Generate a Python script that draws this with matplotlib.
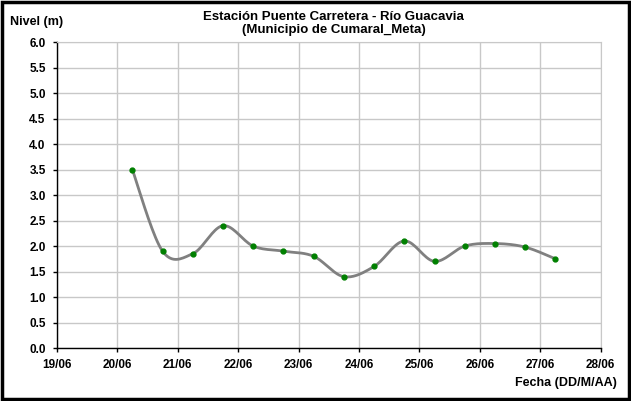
import numpy as np
import matplotlib
matplotlib.use('Agg')
import matplotlib.pyplot as plt
from matplotlib.patches import Rectangle

# Datos (días de junio, 06:00 y 18:00)
dias = [20.25, 20.75, 21.25, 21.75, 22.25, 22.75, 23.25, 23.75,
        24.25, 24.75, 25.25, 25.75, 26.25, 26.75, 27.25]
nivel = [3.5, 1.9, 1.85, 2.4, 2.0, 1.9, 1.8, 1.4,
         1.6, 2.1, 1.7, 2.0, 2.05, 1.98, 1.75]
etiquetas_x = ['19/06', '20/06', '21/06', '22/06', '23/06',
               '24/06', '25/06', '26/06', '27/06', '28/06']


def suavizar(x, y, n=20):
    # Curva suavizada tipo Excel (Catmull-Rom)
    x = np.asarray(x, float)
    y = np.asarray(y, float)
    px = np.concatenate([[x[0]], x, [x[-1]]])
    py = np.concatenate([[y[0]], y, [y[-1]]])
    xs, ys = [], []
    t = np.linspace(0, 1, n)
    for i in range(1, len(px) - 2):
        for p, out in ((px, xs), (py, ys)):
            p0, p1, p2, p3 = p[i - 1], p[i], p[i + 1], p[i + 2]
            out.extend(0.5 * ((2 * p1) + (-p0 + p2) * t
                              + (2 * p0 - 5 * p1 + 4 * p2 - p3) * t ** 2
                              + (-p0 + 3 * p1 - 3 * p2 + p3) * t ** 3))
    return xs, ys


plt.rcParams['font.family'] = ['Liberation Sans', 'DejaVu Sans']
plt.rcParams['font.weight'] = 'bold'

fig = plt.figure(figsize=(6.31, 4.01), dpi=100)
ax = fig.add_axes([0.090, 0.132, 0.862, 0.763])

xs, ys = suavizar(dias, nivel)
ax.plot(xs, ys, color='#808080', lw=2, zorder=3)
ax.plot(dias, nivel, 'o', color='#008000', ms=3.5, zorder=4)

ax.set_xlim(19, 28)
ax.set_ylim(0, 6)
ax.set_xticks(range(19, 29))
ax.set_xticklabels(etiquetas_x)
ax.set_yticks(np.arange(0, 6.01, 0.5))
ax.set_yticklabels([f'{v:.1f}' for v in np.arange(0, 6.01, 0.5)])
ax.tick_params(labelsize=8.5, length=3, width=1, direction='out', pad=5)
for lbl in ax.get_xticklabels() + ax.get_yticklabels():
    lbl.set_fontweight('bold')

ax.grid(True, color='#c8c8c8', lw=1)
ax.set_axisbelow(True)
for s in ['top', 'right']:
    ax.spines[s].set_color('#c8c8c8')
for s in ['left', 'bottom']:
    ax.spines[s].set_color('black')
    ax.spines[s].set_linewidth(1)

fig.text(0.529, 0.957, 'Estación Puente Carretera - Río Guacavia',
         ha='center', va='center', fontsize=9.5, fontweight='bold')
fig.text(0.529, 0.926, '(Municipio de Cumaral_Meta)',
         ha='center', va='center', fontsize=9.5, fontweight='bold')
fig.text(0.016, 0.946, 'Nivel (m)', ha='left', va='center',
         fontsize=9, fontweight='bold')
fig.text(0.978, 0.045, 'Fecha (DD/M/AA)', ha='right', va='center',
         fontsize=9, fontweight='bold')

fig.patches.append(Rectangle((0.003, 0.004), 0.994, 0.992, transform=fig.transFigure,
                             fill=False, edgecolor='black', lw=2.5))

fig.savefig('out.png', dpi=100)
